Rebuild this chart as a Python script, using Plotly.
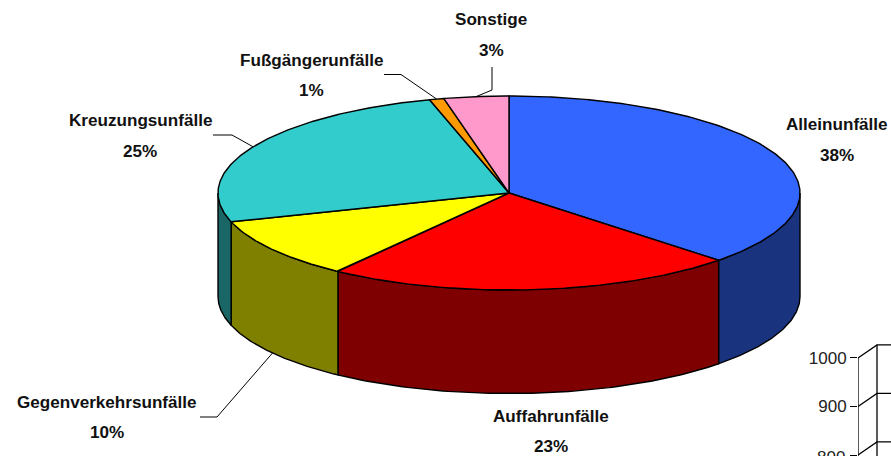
import numpy as np
import plotly.graph_objects as go

# --- data ---
categories = ["Alleinunfälle", "Auffahrunfälle", "Gegenverkehrsunfälle",
              "Kreuzungsunfälle", "Fußgängerunfälle", "Sonstige"]
slice_shares = [37.2, 22.8, 10.2, 25.4, 0.8, 3.6]
percent_labels = ["38%", "23%", "10%", "25%", "1%", "3%"]
top_colors = ["#3366FF", "#FF0000", "#FFFF00", "#33CCCC", "#FF9900", "#FF99CC"]
side_colors = ["#19337F", "#7F0000", "#808000", "#1A6666", "#7F4C00", "#7F4C66"]
second_chart_ticks = [800, 900, 1000]

# --- layout constants ---
W, H = 891, 456
CX, CY, RX, RY, DEPTH = 509, 193, 291, 97, 103.5
LABEL_POS = {  # name line centre, percent line centre
    "Alleinunfälle": ((837, 124), (837, 155)),
    "Auffahrunfälle": ((551, 416), (551, 446)),
    "Gegenverkehrsunfälle": ((107, 402), (107, 432)),
    "Kreuzungsunfälle": ((140, 120), (140, 151)),
    "Fußgängerunfälle": ((311, 60), (311, 90)),
    "Sonstige": ((491, 19), (491, 50)),
}
LEADERS = {  # start and elbow; the end sits on the slice edge
    "Gegenverkehrsunfälle": [(200, 417), (217, 417)],
    "Kreuzungsunfälle": [(213, 135), (232, 135)],
    "Fußgängerunfälle": [(384, 74.5), (401, 74.5)],
    "Sonstige": [(492, 67), (492, 90)],
}
FONT = dict(family="Liberation Sans", size=17.1, color="#111111")
TICK_FONT = dict(family="Liberation Sans", size=17, color="#222222")


def ex(a):
    return CX + RX * np.sin(a)


def ey(a):
    return CY - RY * np.cos(a)


total = sum(slice_shares)
edges = np.concatenate([[0], np.cumsum(slice_shares)]) / total * 2 * np.pi

fig = go.Figure()

# sides (only the front half of the rim shows)
for i in range(len(categories)):
    a0, a1 = max(edges[i], np.pi / 2), min(edges[i + 1], 1.5 * np.pi)
    if a1 <= a0:
        continue
    t = np.linspace(a0, a1, 80)
    xs = np.concatenate([ex(t), ex(t[::-1])])
    ys = np.concatenate([ey(t), ey(t[::-1]) + DEPTH])
    fig.add_trace(go.Scatter(x=np.r_[xs, xs[0]], y=np.r_[ys, ys[0]], mode="lines", fill="toself",
                             fillcolor=side_colors[i], line=dict(color="#000000", width=1.4),
                             hoverinfo="skip", showlegend=False))

# top faces
for i, name in enumerate(categories):
    t = np.linspace(edges[i], edges[i + 1], 160)
    xs = np.r_[CX, ex(t), CX]
    ys = np.r_[CY, ey(t), CY]
    fig.add_trace(go.Scatter(x=xs, y=ys, mode="lines", fill="toself", fillcolor=top_colors[i],
                             line=dict(color="#000000", width=1.4), name=name,
                             hoverinfo="name", showlegend=False))

# leader lines
for i, name in enumerate(categories):
    if name not in LEADERS:
        continue
    mid = (edges[i] + edges[i + 1]) / 2
    end_y = ey(mid) + (DEPTH if np.cos(mid) < 0 else 0)
    pts = LEADERS[name] + [(ex(mid), end_y)]
    fig.add_trace(go.Scatter(x=[p[0] for p in pts], y=[p[1] for p in pts], mode="lines",
                             line=dict(color="#000000", width=1), hoverinfo="skip", showlegend=False))

# labels
annotations = []
for name, pct in zip(categories, percent_labels):
    for text, (x, y) in zip((name, pct), LABEL_POS[name]):
        annotations.append(dict(x=x, y=y, xref="x", yref="y", text=f"<b>{text}</b>", showarrow=False,
                                xanchor="center", yanchor="middle", font=FONT))

# the neighbouring chart, cut off by the lower right corner
DX, DV = 19, 27
wall_x, wall_y = [], []
for v in second_chart_ticks:
    wall_x += [0, DX, 33, None]
    wall_y += [v, v + DV, v + DV, None]
wall_x += [0, 0, None, DX, DX]
wall_y += [790, second_chart_ticks[-1], None, 790, second_chart_ticks[-1] + DV]
fig.add_trace(go.Scatter(x=wall_x, y=wall_y, xaxis="x2", yaxis="y2", mode="lines", connectgaps=False,
                         line=dict(color="#000000", width=1.3), hoverinfo="skip", showlegend=False))

# the lowest tick sits on the axis end, where Plotly drops its label
annotations.append(dict(x=0, y=second_chart_ticks[0], xref="x2", yref="y2",
                        text=str(second_chart_ticks[0]), showarrow=False, xanchor="right",
                        yanchor="middle", xshift=-11, yshift=-2, font=TICK_FONT))

fig.update_layout(
    width=W, height=H, margin=dict(l=0, r=0, t=0, b=0),
    paper_bgcolor="#FFFFFF", plot_bgcolor="rgba(0,0,0,0)",
    annotations=annotations,
    xaxis=dict(range=[0, W], visible=False, domain=[0, 1]),
    yaxis=dict(range=[H, 0], visible=False, domain=[0, 1]),
    xaxis2=dict(domain=[858 / W, 1], range=[0, 33], visible=False, anchor="y2"),
    yaxis2=dict(domain=[0, (H - 340) / H], range=[798, 1037], anchor="x2", tickmode="array",
                tickvals=second_chart_ticks, ticks="outside", ticklen=7, tickwidth=1.3,
                tickcolor="#000000", showgrid=False, zeroline=False, showline=False,
                tickfont=TICK_FONT),
)
fig.write_html(
    "out.html",
    config={"displayModeBar": False},
    post_script="document.body.style.margin='0';document.documentElement.style.overflow='hidden';",
)
